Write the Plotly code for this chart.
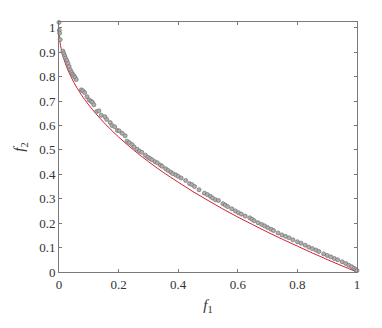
import plotly.graph_objects as go

# true pareto front
front_f1 = [0.0, 0.0005, 0.001, 0.002, 0.005, 0.01, 0.02, 0.03, 0.05, 0.075, 0.1, 0.15, 0.2, 0.25,
            0.3, 0.35, 0.4, 0.45, 0.5, 0.55, 0.6, 0.65, 0.7, 0.75, 0.8, 0.85, 0.9, 0.95, 1.0]
front_f2 = [1.0, 0.978, 0.968, 0.955, 0.929, 0.9, 0.859, 0.827, 0.776, 0.726, 0.684, 0.613, 0.553, 0.5,
            0.452, 0.408, 0.368, 0.329, 0.293, 0.258, 0.225, 0.194, 0.163, 0.134, 0.106,
            0.078, 0.051, 0.025, 0.0]

# obtained solutions (grey circles)
sol_f1 = [0.000, 0.001, 0.002, 0.004, 0.013, 0.016, 0.019, 0.022, 0.026, 0.030, 0.034,
          0.038, 0.042, 0.046, 0.050, 0.054, 0.058, 0.075, 0.080, 0.086, 0.094, 0.101,
          0.107, 0.112, 0.117, 0.126, 0.134, 0.142, 0.154, 0.160, 0.172, 0.178, 0.187,
          0.196, 0.202, 0.212, 0.222, 0.228, 0.236, 0.245, 0.252, 0.262, 0.270, 0.278,
          0.290, 0.298, 0.305, 0.312, 0.322, 0.330, 0.340, 0.346, 0.358, 0.366, 0.375,
          0.382, 0.392, 0.400, 0.410, 0.425, 0.438, 0.446, 0.455, 0.470, 0.488, 0.498,
          0.508, 0.515, 0.525, 0.535, 0.550, 0.558, 0.566, 0.580, 0.592, 0.602, 0.612,
          0.625, 0.640, 0.648, 0.655, 0.668, 0.680, 0.690, 0.700, 0.712, 0.720, 0.735,
          0.748, 0.760, 0.772, 0.785, 0.800, 0.812, 0.826, 0.838, 0.850, 0.862, 0.872,
          0.888, 0.900, 0.912, 0.924, 0.935, 0.950, 0.962, 0.972, 0.982, 0.990, 0.996, 1.000]
sol_f2 = [1.022, 0.990, 0.978, 0.952, 0.905, 0.895, 0.885, 0.876, 0.866, 0.855, 0.842,
          0.828, 0.818, 0.810, 0.804, 0.797, 0.788, 0.746, 0.742, 0.735, 0.718, 0.705,
          0.700, 0.695, 0.685, 0.657, 0.660, 0.642, 0.636, 0.625, 0.612, 0.600, 0.595,
          0.580, 0.578, 0.568, 0.558, 0.536, 0.530, 0.522, 0.512, 0.503, 0.495, 0.490,
          0.478, 0.470, 0.465, 0.460, 0.452, 0.447, 0.438, 0.433, 0.423, 0.416, 0.409,
          0.403, 0.398, 0.392, 0.385, 0.375, 0.362, 0.358, 0.350, 0.337, 0.323, 0.317,
          0.310, 0.303, 0.296, 0.293, 0.280, 0.274, 0.268, 0.259, 0.250, 0.243, 0.237,
          0.229, 0.222, 0.216, 0.210, 0.202, 0.195, 0.189, 0.182, 0.175, 0.170, 0.160,
          0.152, 0.146, 0.140, 0.132, 0.124, 0.118, 0.110, 0.102, 0.096, 0.090, 0.084,
          0.074, 0.068, 0.062, 0.055, 0.050, 0.042, 0.035, 0.028, 0.022, 0.015, 0.010, 0.006]

x_ticks = [0, 0.2, 0.4, 0.6, 0.8, 1]
x_labels = ['0', '0.2', '0.4', '0.6', '0.8', '1']
y_ticks = [0, 0.1, 0.2, 0.3, 0.4, 0.5, 0.6, 0.7, 0.8, 0.9, 1]
y_labels = ['0', '0.1', '0.2', '0.3', '0.4', '0.5', '0.6', '0.7', '0.8', '0.9', '1']

fig = go.Figure()
fig.add_trace(go.Scatter(x=front_f1, y=front_f2, mode='lines', line_shape='spline',
                         line=dict(color='#d4202c', width=1), showlegend=False, cliponaxis=False))
fig.add_trace(go.Scatter(x=sol_f1, y=sol_f2, mode='markers', showlegend=False, cliponaxis=False,
                         marker=dict(symbol='circle', size=4, color='#b0b0b0',
                                     line=dict(color='#707070', width=0.7))))

axis_common = dict(showgrid=False, zeroline=False, showline=True, linecolor='#7a7a7a',
                   linewidth=1, mirror='allticks', ticks='inside', ticklen=3,
                   tickcolor='#7a7a7a', automargin=False,
                   tickfont=dict(family='Liberation Serif', size=13, color='#333333'))

# the page body adds an 8px offset, so margins are shifted to compensate
fig.update_layout(
    width=382, height=328,
    margin=dict(l=51, r=33, t=14, b=64),
    paper_bgcolor='white', plot_bgcolor='white',
    xaxis=dict(range=[0, 1], tickvals=x_ticks, ticktext=x_labels,
               title=dict(text='<i>f</i><sub>1</sub>', standoff=8,
                          font=dict(family='Liberation Serif', size=15, color='#333333')),
               **axis_common),
    yaxis=dict(range=[0, 1.024], tickvals=y_ticks, ticktext=y_labels,
               title=dict(text='<i>f</i><sub>2</sub>', standoff=10,
                          font=dict(family='Liberation Serif', size=15, color='#333333')),
               **axis_common),
)

fig.write_html("out.html")
